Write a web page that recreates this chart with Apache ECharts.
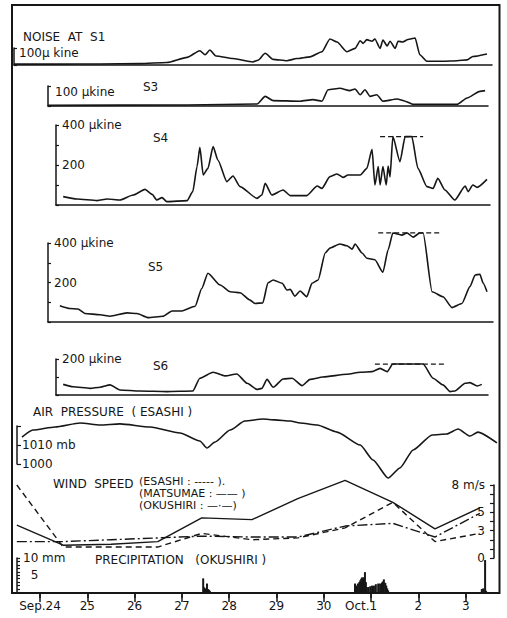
<!DOCTYPE html>
<html>
<head>
<meta charset="utf-8">
<title>Noise at stations, air pressure, wind speed and precipitation</title>
<script src="https://cdn.jsdelivr.net/npm/echarts@6.0.0/dist/echarts.min.js"></script>
<style>
html,body{margin:0;padding:0;background:#ffffff;}
#chart{width:507px;height:618px;}
</style>
</head>
<body>
<div id="chart"></div>
<script>
// ---------------- data (x = days after Sep.24 00h) ----------------
const dayTicks  = [0, 1, 2, 3, 4, 5, 6, 7, 8, 9];
const dayLabels = ['Sep.24', '25', '26', '27', '28', '29', '30', 'Oct.1', '2', '3'];

// NOISE AT S1 (μkine)
const s1Days = [-0.55, 0.42, 1.27, 2.11, 2.68, 3.11, 3.38, 3.49, 3.59, 3.72, 4.08, 4.50, 4.61, 4.76, 4.93, 5.22, 5.43, 5.71, 5.96, 6.13, 6.28, 6.49, 6.66, 6.77, 6.83, 6.91, 7.02, 7.08, 7.19, 7.25, 7.34, 7.40, 7.51, 7.57, 7.67, 7.78, 7.93, 8.03, 8.18, 8.52, 8.82, 9.03, 9.15, 9.45];
const s1Vals = [5, 5, 6, 8, 15, 45, 84, 60, 88, 53, 38, 18, 28, 69, 33, 25, 38, 48, 78, 153, 135, 78, 98, 143, 127, 149, 140, 153, 98, 147, 112, 140, 98, 140, 135, 150, 159, 60, 22, 22, 25, 30, 50, 65];

// S3
const s3Days = [0.17, 3.11, 4.59, 4.76, 4.93, 5.50, 5.77, 5.96, 6.09, 6.34, 6.55, 6.66, 6.77, 6.87, 6.98, 7.12, 7.25, 7.55, 7.72, 7.89, 8.82, 9.03, 9.30, 9.41];
const s3Vals = [3, 5, 10, 48, 27, 24, 32, 24, 81, 89, 77, 85, 56, 81, 48, 56, 24, 35, 24, 8, 8, 40, 73, 77];

// S4
const s4Days = [0.49, 0.78, 1.21, 1.42, 1.69, 1.97, 2.22, 2.37, 2.47, 2.58, 2.68, 3.11, 3.23, 3.32, 3.38, 3.45, 3.55, 3.66, 3.76, 3.95, 4.08, 4.23, 4.59, 4.69, 4.76, 4.90, 5.14, 5.29, 5.64, 5.86, 5.96, 6.13, 6.28, 6.41, 6.51, 6.77, 6.91, 7.02, 7.08, 7.15, 7.19, 7.25, 7.32, 7.36, 7.40, 7.46, 7.61, 7.72, 7.86, 7.99, 8.18, 8.31, 8.41, 8.56, 8.77, 8.99, 9.05, 9.15, 9.24, 9.45];
const s4Vals = [42, 30, 22, 30, 25, 50, 78, 53, 25, 37, 17, 22, 67, 192, 288, 150, 183, 292, 225, 117, 145, 92, 33, 50, 108, 50, 75, 47, 47, 95, 83, 142, 155, 138, 150, 150, 183, 278, 100, 192, 100, 192, 100, 195, 140, 342, 217, 342, 342, 183, 92, 83, 133, 75, 25, 95, 67, 100, 88, 128];
const s4CapDays = [7.19, 8.10];
const s4CapVals = [342, 342];

// S5
const s5Days = [0.42, 0.63, 0.80, 0.95, 1.27, 1.48, 1.84, 2.05, 2.28, 2.60, 2.79, 3.00, 3.28, 3.42, 3.55, 3.81, 4.02, 4.23, 4.44, 4.55, 4.71, 4.82, 4.93, 5.12, 5.22, 5.29, 5.39, 5.50, 5.64, 5.75, 5.88, 6.03, 6.13, 6.34, 6.49, 6.60, 6.66, 6.81, 6.91, 7.08, 7.25, 7.36, 7.46, 7.65, 7.76, 7.89, 8.03, 8.10, 8.29, 8.52, 8.71, 8.92, 9.09, 9.20, 9.30, 9.37, 9.45];
const s5Vals = [82, 68, 66, 43, 37, 29, 46, 43, 22, 29, 56, 56, 80, 170, 247, 187, 153, 148, 111, 94, 97, 199, 213, 196, 162, 165, 131, 157, 128, 196, 213, 349, 374, 395, 386, 369, 395, 349, 323, 315, 252, 366, 451, 440, 451, 430, 451, 451, 153, 128, 73, 94, 179, 238, 242, 196, 153];
const s5CapDays = [7.15, 8.46];
const s5CapVals = [451, 451];

// S6
const s6Days = [0.49, 0.70, 1.06, 1.27, 1.48, 1.69, 2.11, 2.68, 3.23, 3.38, 3.66, 3.91, 4.16, 4.38, 4.59, 4.69, 4.80, 4.93, 5.14, 5.33, 5.54, 5.71, 5.98, 6.49, 6.77, 7.02, 7.19, 7.34, 7.46, 8.10, 8.31, 8.52, 8.67, 8.77, 8.99, 9.09, 9.24, 9.34];
const s6Vals = [59, 46, 37, 43, 56, 28, 22, 19, 22, 93, 126, 106, 117, 65, 31, 37, 87, 43, 89, 93, 52, 87, 100, 115, 126, 130, 148, 130, 172, 172, 93, 56, 19, 22, 65, 69, 50, 59];
const s6CapDays = [7.08, 8.56];
const s6CapVals = [172, 172];

// AIR PRESSURE (ESASHI), mb
const presDays = [-0.38, -0.15, 0.32, 0.85, 1.27, 1.69, 2.33, 2.96, 3.38, 3.53, 3.70, 4.02, 4.33, 4.71, 4.97, 5.29, 5.50, 5.86, 6.28, 6.77, 7.04, 7.36, 7.61, 7.89, 8.29, 8.60, 8.84, 9.09, 9.26, 9.66];
const presVals = [1014.2, 1017.9, 1019.5, 1021.6, 1020.5, 1021.1, 1019.5, 1016.3, 1012.1, 1008.4, 1011.6, 1017.9, 1022.6, 1023.7, 1023.2, 1022.6, 1021.6, 1020.5, 1016.8, 1010.0, 1002.1, 992.6, 997.9, 1007.4, 1015.3, 1015.8, 1018.4, 1014.7, 1016.8, 1011.1];

// WIND SPEED, m/s
const windDays = [-0.49, 0.49, 1.50, 2.49, 3.42, 4.48, 5.45, 6.45, 7.46, 8.35, 9.30];
const windEsashi   = [8.0, 1.2, 1.2, 1.2, 2.7, 2.0, 2.2, 3.3, 6.1, 1.8, 2.7];
const windMatsumae = [3.6, 1.4, 1.5, 1.8, 4.4, 4.2, 6.5, 8.5, 6.1, 3.2, 5.5];
const windOkushiri = [1.8, 1.8, 2.0, 2.2, 2.4, 2.3, 2.3, 3.5, 3.8, 2.3, 4.9];

// PRECIPITATION (OKUSHIRI), mm
const precDays = [3.45, 3.47, 3.49, 3.51, 3.53, 3.55, 3.57, 3.59, 6.66, 6.70, 6.72, 6.75, 6.77, 6.79, 6.81, 6.83, 6.85, 6.87, 6.89, 6.91, 6.94, 6.98, 7.02, 7.06, 7.10, 7.15, 7.19, 7.23, 7.25, 7.27, 7.30, 7.32, 7.34, 7.36, 9.34, 9.37, 9.41, 9.43];
const precVals = [4.1, 1.5, 1.2, 1.0, 2.6, 1.0, 0.8, 0.5, 2.6, 2.0, 2.6, 3.0, 3.5, 4.0, 4.4, 3.5, 4.4, 5.9, 3.0, 1.5, 1.6, 1.8, 2.0, 2.0, 2.4, 2.6, 2.6, 2.9, 3.2, 3.8, 2.8, 2.0, 1.2, 0.6, 1.0, 1.2, 9.4, 0.5];

// ---------------- layout ----------------
const INK = '#161616';
const FONT = 'DejaVu Sans';
const PX_DAY0 = 40, PX_PER_DAY = 47.3;           // pixel of Sep.24 tick, pixels per day
const dayAt = px => (px - PX_DAY0) / PX_PER_DAY;  // converts a grid edge into the day axis extent

// [left, right, top, bottom] in pixels
const boxes = [
  [12, 499.5, 5, 593],    // 0 frame
  [14, 492, 48, 65],      // 1 S1
  [48, 488, 86, 106],     // 2 S3
  [56, 490, 125, 205],    // 3 S4
  [48, 493, 243, 322],    // 4 S5
  [56, 488, 359, 395],    // 5 S6
  [17, 499.5, 426, 464],  // 6 pressure
  [12, 494, 485, 558],    // 7 wind
  [17, 499.5, 558, 592.5] // 8 precipitation
];

const grids = boxes.map((b, i) => ({
  left: b[0], top: b[2], width: b[1] - b[0], height: b[3] - b[2],
  containLabel: false, outerBoundsMode: 'none',
  show: i === 0, borderColor: INK, borderWidth: 2, backgroundColor: 'transparent'
}));

const lbl = {color: INK, fontFamily: FONT, fontSize: 12};

const xAxes = boxes.map((b, i) => ({
  type: 'value', gridIndex: i, min: dayAt(b[0]), max: dayAt(b[1]),
  axisLine: {show: i >= 1 && i <= 5, onZero: false, lineStyle: {color: INK, width: 1.5}},
  axisTick: {show: false}, axisLabel: {show: false}, splitLine: {show: false}
}));
// frame bottom: day ticks + labels
xAxes[0].axisTick = {show: true, customValues: dayTicks, inside: false, length: 5, lineStyle: {color: INK, width: 1.5}};
xAxes[0].axisLabel = Object.assign({}, lbl, {
  show: true, customValues: dayTicks, margin: 7,
  formatter: v => {
    const s = dayLabels[Math.round(v)];
    return s === 'Oct.1' ? '{o|' + s + '}' : s;
  },
  rich: {o: {color: INK, fontFamily: FONT, fontSize: 12, padding: [0, 20, 0, 0]}}
});
// frame top: inward day ticks
xAxes.push({
  type: 'value', gridIndex: 0, position: 'top', min: dayAt(boxes[0][0]), max: dayAt(boxes[0][1]),
  axisLine: {show: false},
  axisTick: {show: true, customValues: dayTicks, inside: true, length: 9, lineStyle: {color: INK, width: 1.5}},
  axisLabel: {show: false}, splitLine: {show: false}
});

function yAx(gi, min, max, interval, o) {
  o = o || {};
  return {
    type: 'value', gridIndex: gi, min: min, max: max, interval: interval,
    position: o.position || 'left', show: o.hide ? false : true,
    axisLine: {show: true, onZero: false, lineStyle: {color: INK, width: 1.5}},
    axisTick: {show: true, inside: true, length: o.tick || 3, lineStyle: {color: INK, width: 1.2}},
    axisLabel: Object.assign({}, lbl, {show: !!o.fmt, inside: true, margin: o.margin || 6, formatter: o.fmt}),
    splitLine: {show: false}
  };
}
const yAxes = [
  yAx(0, 0, 1, 1, {hide: true}),
  yAx(1, 0, 100, 100),
  yAx(2, 0, 100, 100),
  yAx(3, 0, 400, 100, {fmt: v => v === 400 ? '400 μkine' : (v === 200 ? '200' : '')}),
  yAx(4, 0, 400, 100, {fmt: v => v === 400 ? '400 μkine' : (v === 200 ? '200' : '')}),
  yAx(5, 0, 200, 100, {fmt: v => v === 200 ? '200 μkine' : ''}),
  yAx(6, 1000, 1020, 10, {tick: 4, margin: 5, fmt: v => v === 1010 ? '1010 mb' : (v === 1000 ? '1000' : '')}),
  yAx(7, 0, 8, 1, {position: 'right', tick: 4, margin: 9, fmt: v => ({8: '8 m/s', 5: '5', 3: '3', 0: '0'})[v] || ''}),
  yAx(8, 0, 10, 1, {tick: 3, margin: 6, fmt: v => v === 10 ? '10 mm' : (v === 5 ? '\u20075' : '')})
];

const zip = (a, b) => a.map((d, i) => [d, b[i]]);
function curve(gi, days, vals, extra) {
  return Object.assign({
    type: 'line', xAxisIndex: gi, yAxisIndex: gi, data: zip(days, vals),
    symbol: 'none', showSymbol: false, clip: false, smooth: 0.2, smoothMonotone: 'x',
    lineStyle: {color: INK, width: 1.6}, silent: true, z: 3
  }, extra || {});
}
const capStyle = {smooth: false, lineStyle: {color: INK, width: 1.2, type: [5, 3]}};
const windLine = t => ({smooth: false, lineStyle: {color: INK, width: 1.4, type: t}});

const series = [
  curve(1, s1Days, s1Vals),
  curve(2, s3Days, s3Vals),
  curve(3, s4Days, s4Vals),
  curve(3, s4CapDays, s4CapVals, capStyle),
  curve(4, s5Days, s5Vals),
  curve(4, s5CapDays, s5CapVals, capStyle),
  curve(5, s6Days, s6Vals),
  curve(5, s6CapDays, s6CapVals, capStyle),
  curve(6, presDays, presVals),
  curve(7, windDays, windEsashi, windLine([6, 4])),
  curve(7, windDays, windMatsumae, windLine('solid')),
  curve(7, windDays, windOkushiri, windLine([10, 3, 2, 3])),
  {type: 'bar', xAxisIndex: 8, yAxisIndex: 8, data: zip(precDays, precVals), barWidth: 2,
   itemStyle: {color: INK}, silent: true}
];

// [text, x, y, font size]
const texts = [
  ['NOISE  AT  S1', 23, 37, 12],
  ['100μ kine', 19, 53, 12],
  ['100 μkine', 55, 92, 12],
  ['S3', 143, 87, 12],
  ['S4', 153, 138, 12],
  ['S5', 148, 267, 12],
  ['S6', 153, 366, 12],
  ['AIR  PRESSURE  ( ESASHI )', 33, 412, 12],
  ['WIND  SPEED', 53, 484, 12],
  ['(ESASHI : ----- ).', 139, 481, 11],
  ['(MATSUMAE : —— )', 139, 493, 11],
  ['(OKUSHIRI : —·—)', 139, 505, 11],
  ['PRECIPITATION   (OKUSHIRI )', 95, 560, 12]
];
const graphic = texts.map(t => ({
  type: 'text', x: t[1], y: t[2], silent: true,
  style: {text: t[0], fill: INK, font: t[3] + 'px "' + FONT + '"', align: 'left', verticalAlign: 'middle'}
}));

const chart = echarts.init(document.getElementById('chart'), null, {renderer: 'svg', width: 507, height: 618});
chart.setOption({
  backgroundColor: '#ffffff',
  animation: false,
  grid: grids,
  xAxis: xAxes,
  yAxis: yAxes,
  series: series,
  graphic: graphic
});
</script>
</body>
</html>
